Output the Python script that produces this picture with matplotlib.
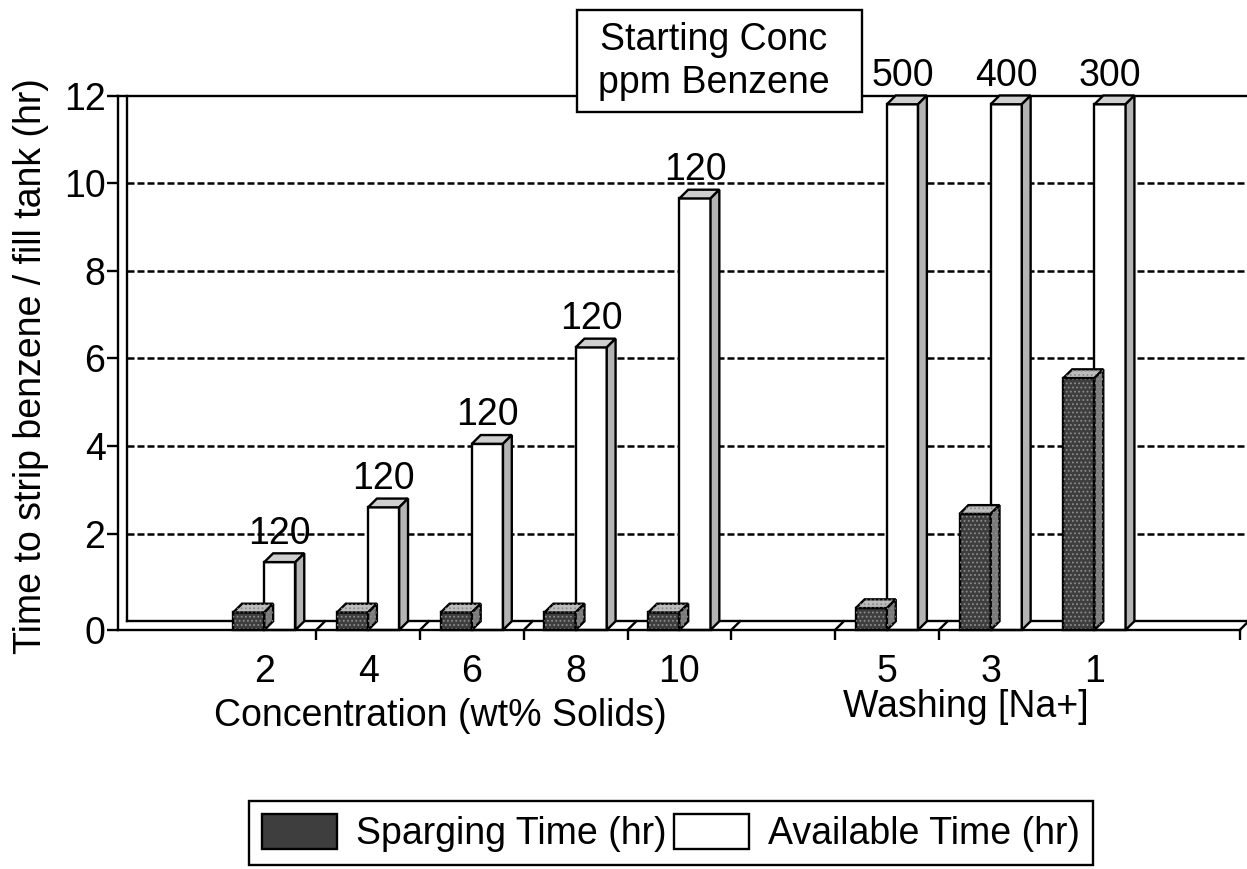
import numpy as np
import matplotlib.pyplot as plt
from matplotlib.patches import Polygon, Rectangle, Patch

plt.rcParams['font.family'] = ['Liberation Sans', 'DejaVu Sans']
plt.rcParams['hatch.linewidth'] = 0.8

# data
categories = ['2', '4', '6', '8', '10', '', '5', '3', '1']
sparging = [0.4, 0.4, 0.4, 0.4, 0.4, np.nan, 0.5, 2.65, 5.75]
available = [1.55, 2.8, 4.25, 6.45, 9.85, np.nan, 12, 12, 12]
start_conc = ['120', '120', '120', '120', '120', '', '500', '400', '300']
yvals = [0, 2, 4, 6, 8, 10, 12]

W, H = 1247, 869
dx, dy = 0.085, 0.2     # fake 3D depth (x in slots, y in hours)
w = 0.3                 # bar width
lw = 1.7
x0, x1 = -1.41, 9.47
floor_end = 9.40

fig = plt.figure(figsize=(W / 100, H / 100), dpi=100)
ax = fig.add_axes([118 / W, 1 - 630 / H, 1 - 118 / W, (630 - 95.5) / H])
ax.set_xlim(x0, x1)
ax.set_ylim(-dy, 12)
for s in ax.spines.values():
    s.set_visible(False)
ax.spines['left'].set_visible(True)
ax.spines['top'].set_visible(True)
ax.spines['left'].set_linewidth(lw)
ax.spines['top'].set_linewidth(lw)

# back wall, floor
ax.plot([x0 + dx, x0 + dx], [0, 12], c='k', lw=lw, clip_on=False, zorder=2)
ax.plot([x0, floor_end], [-dy, -dy], c='k', lw=lw, clip_on=False, zorder=6)
ax.plot([x0 + dx, x1], [0, 0], c='k', lw=lw, clip_on=False, zorder=1)
bounds = list(np.arange(len(categories) - 1)[:-1] + 0.5) + [floor_end]
for b in bounds:
    ax.plot([b, b + dx], [-dy, 0], c='k', lw=lw, clip_on=False, zorder=1)

# gridlines
ax.hlines(yvals[1:-1], x0 + dx, x1, colors='k', lw=1.8,
          linestyles=(0, (2.8, 1.2)), zorder=1)


def bar3d(xl, v, face, side, top, z, tex=None):
    front = [(xl, -dy), (xl + w, -dy), (xl + w, v - dy), (xl, v - dy)]
    roof = [(xl, v - dy), (xl + w, v - dy), (xl + w + dx, v), (xl + dx, v)]
    rside = [(xl + w, -dy), (xl + w + dx, 0), (xl + w + dx, v), (xl + w, v - dy)]
    for pts, fc in ((front, face), (roof, top), (rside, side)):
        ax.add_patch(Polygon(pts, closed=True, facecolor=fc, edgecolor='k',
                             lw=lw, zorder=z, clip_on=False))
        if tex:
            ax.add_patch(Polygon(pts, closed=True, fill=False, edgecolor=tex,
                                 lw=0, hatch='....', zorder=z, clip_on=False))


for i, lab in enumerate(categories):
    if not lab:
        continue
    bar3d(i, available[i], 'white', '#b4b4b4', '#cfcfcf', 3)
    bar3d(i - w, sparging[i], '#3e3e3e', '#7a7a7a', '#bdbdbd', 4, tex='#8c8c8c')
    ax.text(i + w / 2, available[i] + 0.22, start_conc[i], ha='center',
            va='baseline', fontsize=27, clip_on=False)

ax.set_yticks([v if v else -dy for v in yvals])
ax.set_yticklabels([str(v) for v in yvals])
ax.tick_params(axis='y', direction='out', length=8, width=lw, labelsize=27, pad=1)

ax.set_xticks(bounds)
ax.set_xticklabels([])
ax.set_xticks(np.arange(len(categories)), minor=True)
ax.set_xticklabels(categories, minor=True)
ax.tick_params(axis='x', which='major', direction='out', length=7, width=lw)
ax.tick_params(axis='x', which='minor', length=0, labelsize=27, pad=17)

fig.text(31 / W, 1 - 366 / H, "Time to strip benzene / fill tank (hr)",
         rotation=90, ha='center', va='center', fontsize=27)
fig.text(440 / W, 1 - 716 / H, "Concentration (wt% Solids)",
         ha='center', va='center', fontsize=27)
fig.text(966 / W, 1 - 707 / H, "Washing [Na+]",
         ha='center', va='center', fontsize=27)

# starting concentration box
fig.add_artist(Rectangle((577 / W, 1 - 112 / H), 285 / W, 102 / H,
                         transform=fig.transFigure, facecolor='white',
                         edgecolor='k', lw=lw, zorder=10))
fig.text(714 / W, 1 - 50 / H, "Starting Conc", ha='center', va='baseline',
         fontsize=27, zorder=11)
fig.text(714 / W, 1 - 93 / H, "ppm Benzene", ha='center', va='baseline',
         fontsize=27, zorder=11)

handles = [Patch(facecolor='#3e3e3e', edgecolor='k', lw=lw),
           Patch(facecolor='white', edgecolor='k', lw=lw)]
leg = fig.legend(handles, ["Sparging Time (hr)", "Available Time (hr)"],
                 ncol=2, loc='center', bbox_to_anchor=(671 / W, 1 - 833 / H),
                 fontsize=27, handlelength=2.0, handleheight=1.05,
                 handletextpad=0.5, columnspacing=0.2, borderpad=0.35,
                 fancybox=False, framealpha=1, edgecolor='k')
leg.get_frame().set_linewidth(lw)

fig.savefig('out.png', dpi=100)
